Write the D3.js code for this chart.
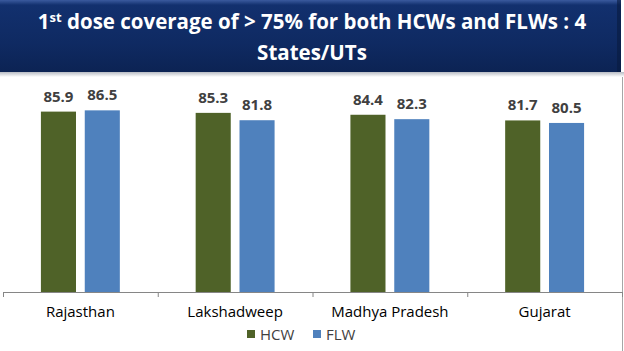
<!DOCTYPE html>
<html>
<head>
<meta charset="utf-8">
<script src="https://cdn.jsdelivr.net/npm/d3@7"></script>
<style>
  body { margin:0; background:#fff; }
  svg { display:block; }
</style>
</head>
<body>
<script>
// data
var states = ["Rajasthan", "Lakshadweep", "Madhya Pradesh", "Gujarat"];
var series = ["HCW", "FLW"];
var hcw = [85.9, 85.3, 84.4, 81.7];
var flw = [86.5, 81.8, 82.3, 80.5];
var colors = ["#4F6228", "#4F81BD"];

var width = 624, height = 351;
var margin = {left:3, right:2, top:82, bottom:59};
var plotH = height - margin.top - margin.bottom; // 210

var svg = d3.select("body").append("svg").attr("width", width).attr("height", height)
  .style("font-family", "'Open Sans', sans-serif");

// banner
var defs = svg.append("defs");
var grad = defs.append("linearGradient").attr("id","bannerGrad").attr("x1",0).attr("y1",0).attr("x2",0).attr("y2",1);
grad.append("stop").attr("offset","0%").attr("stop-color","#3a5a9e");
grad.append("stop").attr("offset","7%").attr("stop-color","#12306e");
grad.append("stop").attr("offset","60%").attr("stop-color","#0f2a62");
grad.append("stop").attr("offset","100%").attr("stop-color","#0c2354");
var shadow = defs.append("linearGradient").attr("id","shadowGrad").attr("x1",0).attr("y1",0).attr("x2",0).attr("y2",1);
shadow.append("stop").attr("offset","0%").attr("stop-color","#b8bcc4");
shadow.append("stop").attr("offset","100%").attr("stop-color","#ffffff");

svg.append("rect").attr("x",0).attr("y",72).attr("width",width).attr("height",5).attr("fill","url(#shadowGrad)");
svg.append("rect").attr("x",0).attr("y",0).attr("width",621).attr("height",72).attr("fill","url(#bannerGrad)");
svg.append("rect").attr("x",617).attr("y",0).attr("width",4).attr("height",72).attr("fill","#081a40").attr("opacity",0.6);

var title = svg.append("text").attr("x", 312).attr("y", 29).attr("text-anchor","middle")
  .attr("fill","#fff").style("font-size","20.5px").style("font-weight","bold");
title.append("tspan").text("1");
title.append("tspan").attr("dy",-7).style("font-size","13px").text("st");
title.append("tspan").attr("dy",7).text(" dose coverage of > 75% for both HCWs and FLWs : 4");
svg.append("text").attr("x", 312).attr("y", 60).attr("text-anchor","middle")
  .attr("fill","#fff").style("font-size","20.5px").style("font-weight","bold").text("States/UTs");

// right border of chart box
svg.append("line").attr("x1",622.5).attr("x2",622.5).attr("y1",77).attr("y2",height)
  .attr("stroke","#a6a6a6").attr("stroke-width",1);

// scales
var x0 = d3.scaleBand().domain(states).range([margin.left, width - margin.right]).paddingInner(0.49).paddingOuter(0.245);
var x1 = d3.scaleBand().domain(series).range([0, x0.bandwidth()]).paddingInner(0.2);
var y = d3.scaleLinear().domain([0, 100]).range([margin.top + plotH, margin.top]);

var xAxisScale = d3.scaleBand().domain(states).range([margin.left, width - margin.right]);

var table = states.map(function(s, i){ return {state:s, values:[hcw[i], flw[i]]}; });

var groups = svg.selectAll("g.state").data(table).enter().append("g")
  .attr("class","state")
  .attr("transform", function(d){ return "translate(" + x0(d.state) + ",0)"; });

groups.selectAll("rect").data(function(d){ return d.values.map(function(v,j){ return {s:series[j], v:v, c:colors[j]}; }); })
  .enter().append("rect")
  .attr("x", function(d){ return x1(d.s); })
  .attr("y", function(d){ return y(d.v); })
  .attr("width", x1.bandwidth())
  .attr("height", function(d){ return y(0) - y(d.v); })
  .attr("fill", function(d){ return d.c; });

groups.selectAll("text.val").data(function(d){ return d.values.map(function(v,j){ return {s:series[j], v:v}; }); })
  .enter().append("text").attr("class","val")
  .attr("x", function(d){ return x1(d.s) + x1.bandwidth()/2; })
  .attr("y", function(d){ return y(d.v) - 10; })
  .attr("text-anchor","middle")
  .attr("fill","#404040").style("font-size","15px").style("font-weight","bold")
  .text(function(d){ return d.v.toFixed(1); });

// x axis
var xAxis = d3.axisBottom(xAxisScale).tickSize(0).tickPadding(14);
var axisG = svg.append("g").attr("transform","translate(0," + y(0) + ")").call(xAxis);
axisG.select(".domain").attr("stroke","#868686");
axisG.selectAll("text").style("font-size","15px").style("font-family","'Open Sans', sans-serif").attr("fill","#000");
// tick marks between categories
var edges = states.map(function(s){ return xAxisScale(s); }).concat([width - margin.right]);
axisG.selectAll("line.sep").data(edges).enter().append("line").attr("class","sep")
  .attr("x1", function(d){ return d + 0.5; }).attr("x2", function(d){ return d + 0.5; })
  .attr("y1", 0).attr("y2", 5).attr("stroke","#868686");

// legend
var legend = svg.append("g").attr("transform","translate(247,334)");
var lx = [0, 66];
series.forEach(function(s, i){
  var g = legend.append("g").attr("transform","translate(" + lx[i] + ",0)");
  g.append("rect").attr("x",0).attr("y",-4).attr("width",8).attr("height",8).attr("fill",colors[i]);
  g.append("text").attr("x",13).attr("y",5.5).style("font-size","15px").attr("fill","#404040").text(s);
});
</script>
</body>
</html>
